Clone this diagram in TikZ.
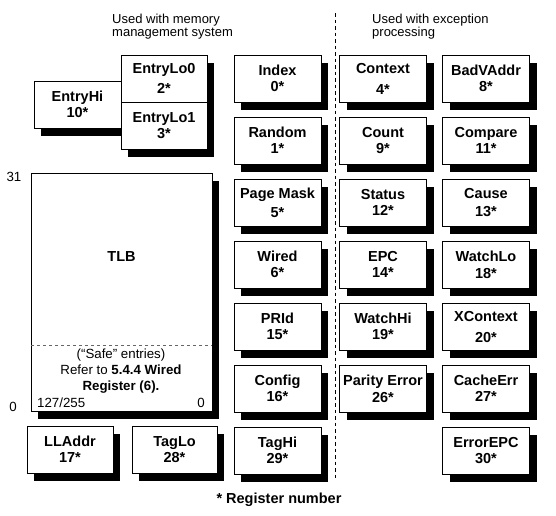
\documentclass[tikz,border=0pt]{standalone}
\usepackage{fontspec}
\setmainfont{Liberation Sans}
\usetikzlibrary{shadows}
\begin{document}
\begin{tikzpicture}[x=1pt,y=-1pt,
  reg/.style={draw, line width=0.9pt, fill=white, minimum width=87pt, minimum height=47pt,
    inner sep=0pt, align=center, font=\fontsize{14.5}{16}\selectfont\bfseries,
    drop shadow={shadow xshift=7pt,shadow yshift=-8pt,fill=black,opacity=1}},
  hdr/.style={font=\fontsize{13}{13.4}\selectfont, inner sep=0pt, align=left, anchor=west},
  small/.style={font=\fontsize{13.3}{16}\selectfont, inner sep=0pt, align=center},
  boldlbl/.style={font=\fontsize{14.5}{16}\selectfont\bfseries, inner sep=0pt},
  sep/.style={line width=1pt, dash pattern=on 3.5pt off 3pt},
  tlbsep/.style={draw=black!60, line width=0.6pt, dash pattern=on 3pt off 3pt}]
\useasboundingbox (0,0) rectangle (556,515);

% headers
\node[hdr] (hmem) at (112,26.6) {Used with memory\\management system};
\node[hdr] (hexc) at (372,26.6) {Used with exception\\processing};

% separator
\coordinate (septop) at (335,13);
\coordinate (sepbot) at (335,478);
\draw[sep] (septop) -- (sepbot);

% entry registers
\node[reg] (entryhi) at (77.5,104.5) {EntryHi\\10*};
\node[reg, minimum width=86pt] (entrylo0) at (164,78.5) {EntryLo0\\[4pt]2*};
\node[reg, minimum width=86pt] (entrylo1) at (164,125.5) {EntryLo1\\3*};

% column 1
\node[reg] (index)    at (277.5,78.5)  {Index\\0*};
\node[reg] (random)   at (277.5,140.5) {Random\\1*};
\node[reg] (pagemask) at (277.5,202.5) {Page Mask\\[3pt]5*};
\node[reg] (wired)    at (277.5,264.5) {Wired\\6*};
\node[reg] (prid)     at (277.5,326.5) {PRId\\15*};
\node[reg] (config)   at (277.5,388.5) {Config\\16*};
\node[reg] (taghi)    at (277.5,450.5) {TagHi\\29*};

% column 2
\node[reg] (context)  at (383,78.5)  {Context\\[5pt]4*};
\node[reg] (count)    at (383,140.5) {Count\\9*};
\node[reg] (status)   at (383,202.5) {Status\\12*};
\node[reg] (epc)      at (383,264.5) {EPC\\14*};
\node[reg] (watchhi)  at (383,326.5) {WatchHi\\19*};
\node[reg] (parity)   at (383,388.5) {Parity Error\\[1pt]26*};

% column 3
\node[reg] (badvaddr) at (486,78.5)  {BadVAddr\\8*};
\node[reg] (compare)  at (486,140.5) {Compare\\11*};
\node[reg] (cause)    at (486,202.5) {Cause\\[1.5pt]13*};
\node[reg] (watchlo)  at (486,264.5) {WatchLo\\[1pt]18*};
\node[reg] (xcontext) at (486,326.5) {XContext\\[5pt]20*};
\node[reg] (cacheerr) at (486,388.5) {CacheErr\\27*};
\node[reg] (errorepc) at (486,450.5) {ErrorEPC\\30*};

% TLB
\node[reg, minimum width=181pt, minimum height=238pt] (tlb) at (121.5,292) {};
\node[boldlbl] (tlbname) at (121.5,257) {TLB};
\coordinate (tlbsl) at (31,345);
\coordinate (tlbsr) at (212,345);
\draw[tlbsep] (tlbsl) -- (tlbsr);
\node[small] (safe) at (121,371) {(“Safe” entries)\\Refer to \textbf{5.4.4 Wired}\\\textbf{Register (6).}};
\node[small, anchor=west] (tlblo) at (37,403) {127/255};
\node[small] (tlbhi) at (201,403) {0};
\node[small] (top31) at (14,177) {31};
\node[small] (bot0) at (13,407) {0};

% bottom row
\node[reg, minimum width=86pt] (lladdr) at (70,449.5) {LLAddr\\17*};
\node[reg, minimum width=85pt] (taglo) at (174.5,449.5) {TagLo\\28*};

% footnote
\node[boldlbl] (note) at (279,500) {* Register number};
\end{tikzpicture}
\end{document}
